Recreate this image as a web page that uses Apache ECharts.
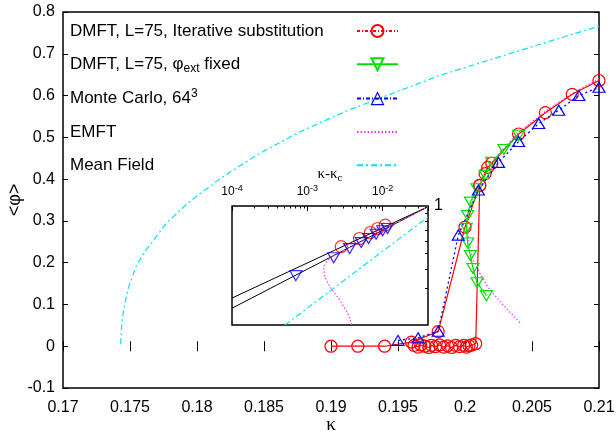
<!DOCTYPE html>
<html><head><meta charset="utf-8">
<script src="https://cdn.jsdelivr.net/npm/echarts@6/dist/echarts.min.js"></script>
<style>html,body{margin:0;padding:0;background:#fff}#c{width:616px;height:438px}</style>
</head><body><div id="c"></div>
<script>
// ---- main plot data (kappa, <phi>) ----
const redCoarse = [[0.19,0],[0.192,0],[0.194,0],[0.196,0.01],[0.198,0.035],[0.2,0.285],[0.2011,0.385],[0.2015,0.413],[0.2017,0.428],[0.202,0.438],[0.204,0.508],[0.206,0.559],[0.208,0.603],[0.21,0.636]];
const redFine = [[0.1962,0.002],[0.1965,-0.002],[0.1967,0.003],[0.197,0.0],[0.1973,-0.003],[0.1975,0.002],[0.1978,-0.001],[0.1981,0.003],[0.1984,-0.002],[0.1987,0.001],[0.199,-0.003],[0.1993,0.002],[0.1996,-0.001],[0.1999,0.002],[0.2001,-0.002],[0.2003,0.001],[0.2005,0.003],[0.2008,0.006],[0.2011,0.385]];
const greenFixed = [[0.204,0.505],[0.2029,0.471],[0.202,0.44],[0.2015,0.409],[0.2009,0.377],[0.2004,0.345],[0.2002,0.313],[0.2001,0.282],[0.2002,0.247],[0.2004,0.217],[0.2006,0.186],[0.2009,0.152],[0.2016,0.121]];
const blueMC = [[0.195,0.014],[0.1965,0.02],[0.198,0.036],[0.1995,0.266],[0.201,0.374],[0.2025,0.44],[0.204,0.49],[0.2055,0.533],[0.207,0.565],[0.2085,0.6],[0.21,0.62]];
const emft = [[0.21,0.64],[0.208,0.605],[0.206,0.562],[0.204,0.512],[0.2025,0.46],[0.2015,0.415],[0.2008,0.375],[0.2003,0.33],[0.2001,0.29],[0.2003,0.25],[0.2006,0.206],[0.2011,0.175],[0.2017,0.142],[0.2024,0.115],[0.2031,0.09],[0.2037,0.07],[0.2042,0.053]];
const mfKappa = [0.1743,0.1744,0.1746,0.1749,0.1755,0.1762,0.1777,0.1794,0.1819,0.1846,0.1876,0.1913,0.1981,0.204,0.21];
const mfPhi   = [0.005,0.06,0.1,0.142,0.195,0.23,0.294,0.345,0.405,0.46,0.512,0.565,0.648,0.707,0.766];

// ---- inset data (kappa - kappa_c, <phi>) log-log ----
const insetRed = [[2.82e-3,0.554],[4.93e-3,0.623],[6.89e-3,0.68],[8.6e-3,0.721],[1.08e-2,0.757]];
const insetBlue = [[7.05e-4,0.363],[2.24e-3,0.471],[3.64e-3,0.538],[5.19e-3,0.587],[6.5e-3,0.623],[8.18e-3,0.663],[1.0e-2,0.697],[1.16e-2,0.721]];
const fitUpper = [[1e-4,0.262],[0.04,0.99]];
const fitLower = [[1e-4,0.226],[0.04,0.99]];
const insetMF = [[5.05e-4,0.177],[0.04,0.852]];
const insetEMFT = [[0.04,0.99],[0.01,0.70],[3e-3,0.52],[2.1e-3,0.475],[1.82e-3,0.45],[1.65e-3,0.407],[1.7e-3,0.359],[1.98e-3,0.31],[2.68e-3,0.255],[3.45e-3,0.21],[3.9e-3,0.177]];
const insetXMinor = [2e-4,3e-4,4e-4,5e-4,6e-4,7e-4,8e-4,9e-4,2e-3,3e-3,4e-3,5e-3,6e-3,7e-3,8e-3,9e-3,2e-2,3e-2,4e-2];
const insetYMinor = [0.3,0.4,0.5,0.6,0.7,0.8,0.9];

const nR = 'DMFT, L=75, Iterative substitution';
const nG = 'DMFT, L=75, φext fixed';
const nB = 'Monte Carlo, 64^3';
const nE = 'EMFT';
const nM = 'Mean Field';

const FONT = 'Liberation Sans';
const chart = echarts.init(document.getElementById('c'), null, {renderer:'canvas'});
const hollow = c => ({color:'rgba(0,0,0,0)', borderColor:c, borderWidth:1.2});
const noSym = {color:'rgba(0,0,0,0)', borderColor:'rgba(0,0,0,0)', borderWidth:0};

const option = {
  animation:false,
  backgroundColor:'#fff',
  textStyle:{fontFamily:FONT},
  grid:[
    {left:63, top:12, width:536, height:376, show:true, borderColor:'#000', borderWidth:1.5, backgroundColor:'#fff', containLabel:false, outerBoundsMode:'none'},
    {left:232, top:206, width:196, height:119, show:true, borderColor:'#000', borderWidth:1.5, backgroundColor:'#fff', containLabel:false, outerBoundsMode:'none'}
  ],
  legend:{
    orient:'vertical', left:70, top:21, padding:0, itemGap:13.3, align:'right',
    itemWidth:41, itemHeight:15, selectedMode:false,
    data:[
      {name:nR, lineStyle:{type:[3,2,1,2]}},
      {name:nG},
      {name:nB, lineStyle:{type:[4,2,1,2]}, itemStyle:hollow('#0000ff')},
      {name:nE, itemStyle:noSym},
      {name:nM, itemStyle:noSym}
    ],
    textStyle:{fontFamily:FONT, fontSize:17, color:'#000', width:282, height:20, lineHeight:20,
      rich:{
        t:{fontSize:17, fontFamily:FONT, color:'#000', align:'left'},
        sub:{fontSize:12, fontFamily:FONT, color:'#000', align:'left', padding:[9,0,0,0]},
        sup:{fontSize:12, fontFamily:FONT, color:'#000', align:'left', padding:[0,0,9,0]}
      }},
    formatter: function(name){
      if(name===nG) return '{t|DMFT, L=75, φ}{sub|ext}{t| fixed}';
      if(name===nB) return '{t|Monte Carlo, 64}{sup|3}';
      return '{t|' + name + '}';
    }
  },
  xAxis:[
    {type:'value', gridIndex:0, position:'bottom', min:0.17, max:0.21, interval:0.005,
     axisLine:{show:false}, splitLine:{show:false},
     axisTick:{inside:true, length:5, lineStyle:{color:'#000', width:1}},
     axisLabel:{margin:12, fontSize:16, color:'#000', fontFamily:FONT, showMinLabel:true, showMaxLabel:true,
       formatter:v=>String(+v.toFixed(3))},
     name:'κ', nameLocation:'middle', nameGap:28, nameMoveOverlap:false,
     nameTextStyle:{fontSize:19, color:'#000', fontFamily:'Liberation Serif'}},
    {type:'value', gridIndex:0, position:'top', min:0.17, max:0.21, interval:0.005,
     axisLine:{show:false}, splitLine:{show:false}, axisLabel:{show:false},
     axisTick:{inside:true, length:5, lineStyle:{color:'#000', width:1}}},
    {type:'log', logBase:10, gridIndex:1, position:'top', min:1e-4, max:0.04,
     axisLine:{show:false}, splitLine:{show:false},
     axisTick:{inside:true, length:5, lineStyle:{color:'#000', width:1}},
     axisLabel:{margin:6, fontSize:12, color:'#000', fontFamily:FONT, showMinLabel:true, showMaxLabel:true,
       formatter:function(v){
         const e = Math.round(Math.log10(v));
         if (Math.abs(Math.log10(v)-e) > 1e-6 || e > -2) return '';
         return '10{sup|' + e + '}';
       },
       rich:{sup:{fontSize:9, fontFamily:FONT, color:'#000', padding:[0,0,7,0]}}},
     name:'{k|κ-κ}{sub|c}', nameLocation:'middle', nameGap:22, nameMoveOverlap:false,
     nameTextStyle:{fontSize:15, color:'#000', rich:{k:{fontSize:15, fontFamily:'Liberation Serif', color:'#000'}, sub:{fontSize:11, fontFamily:'Liberation Serif', color:'#000', padding:[8,0,0,0]}}}},
    {type:'log', logBase:10, gridIndex:1, position:'top', min:1e-4, max:0.04,
     axisLine:{show:false}, splitLine:{show:false}, axisLabel:{show:false},
     axisTick:{inside:true, length:2.5, customValues:insetXMinor, lineStyle:{color:'#000', width:1}}}
  ],
  yAxis:[
    {type:'value', gridIndex:0, position:'left', min:-0.1, max:0.8, interval:0.1,
     axisLine:{show:false}, splitLine:{show:false},
     axisTick:{inside:true, length:5, lineStyle:{color:'#000', width:1}},
     axisLabel:{margin:8, fontSize:16, color:'#000', fontFamily:FONT, showMinLabel:true, showMaxLabel:true,
       formatter:v=>{const r=Math.round(v*10)/10; return r===0?'0':String(r);}},
     name:'<φ>', nameLocation:'middle', nameGap:39, nameRotate:90, nameMoveOverlap:false,
     nameTextStyle:{fontSize:18, color:'#000', fontFamily:FONT}},
    {type:'value', gridIndex:0, position:'right', min:-0.1, max:0.8, interval:0.1,
     axisLine:{show:false}, splitLine:{show:false}, axisLabel:{show:false},
     axisTick:{inside:true, length:5, lineStyle:{color:'#000', width:1}}},
    {type:'log', logBase:10, gridIndex:1, position:'right', min:0.177, max:1,
     axisLine:{show:false}, splitLine:{show:false},
     axisTick:{inside:true, length:3, customValues:insetYMinor, lineStyle:{color:'#000', width:1}},
     axisLabel:{margin:6, fontSize:16, color:'#000', fontFamily:FONT, showMaxLabel:true, verticalAlign:'middle',
       formatter:v=>Math.abs(v-1)<1e-6?'1':''}}
  ],
  series:[
    {name:nM, type:'line', xAxisIndex:0, yAxisIndex:0, data:mfKappa.map((k,i)=>[k,mfPhi[i]]),
     symbol:'none', lineStyle:{color:'#00e5ee', width:1.2, type:[6,3,2,3]}, itemStyle:{color:'#00e5ee'}, z:2},
    {name:nE, type:'line', xAxisIndex:0, yAxisIndex:0, data:emft,
     symbol:'none', lineStyle:{color:'#ff33ff', width:1.2, type:[1.5,2]}, itemStyle:{color:'#ff33ff'}, z:3},
    {name:nR, type:'line', xAxisIndex:0, yAxisIndex:0, data:redCoarse,
     symbol:'circle', symbolSize:12, lineStyle:{color:'#ff0000', width:1.2}, itemStyle:hollow('#ff0000'), z:4},
    {name:nR, type:'line', xAxisIndex:0, yAxisIndex:0, data:redFine,
     symbol:'circle', symbolSize:12, lineStyle:{color:'#ff0000', width:1.2}, itemStyle:hollow('#ff0000'), z:4},
    {name:nG, type:'line', xAxisIndex:0, yAxisIndex:0, data:greenFixed,
     symbol:'triangle', symbolRotate:180, symbolSize:[12,10], lineStyle:{color:'#00e000', width:1.2}, itemStyle:hollow('#00e000'), z:5},
    {name:nB, type:'line', xAxisIndex:0, yAxisIndex:0, data:blueMC,
     symbol:'triangle', symbolSize:[12,10], lineStyle:{color:'#0000ff', width:1.3, type:[2,3]}, itemStyle:hollow('#0000ff'), z:6},
    // inset
    {name:'fitUpper', type:'line', xAxisIndex:2, yAxisIndex:2, data:fitUpper, symbol:'none', lineStyle:{color:'#000', width:1}, z:3},
    {name:'fitLower', type:'line', xAxisIndex:2, yAxisIndex:2, data:fitLower, symbol:'none', lineStyle:{color:'#000', width:1}, z:3},
    {name:'insetMF', type:'line', xAxisIndex:2, yAxisIndex:2, data:insetMF, symbol:'none', lineStyle:{color:'#00e5ee', width:1.2, type:[6,3,2,3]}, z:3},
    {name:'insetEMFT', type:'line', xAxisIndex:2, yAxisIndex:2, data:insetEMFT, symbol:'none', lineStyle:{color:'#ff33ff', width:1.2, type:[1.5,2]}, z:4},
    {name:'insetRed', type:'scatter', xAxisIndex:2, yAxisIndex:2, data:insetRed, symbol:'circle', symbolSize:12, itemStyle:hollow('#ff0000'), z:5},
    {name:'insetBlue', type:'scatter', xAxisIndex:2, yAxisIndex:2, data:insetBlue, symbol:'triangle', symbolRotate:180, symbolSize:[12,10], itemStyle:hollow('#0000ff'), z:6}
  ]
};
chart.setOption(option);
</script>
</body></html>
